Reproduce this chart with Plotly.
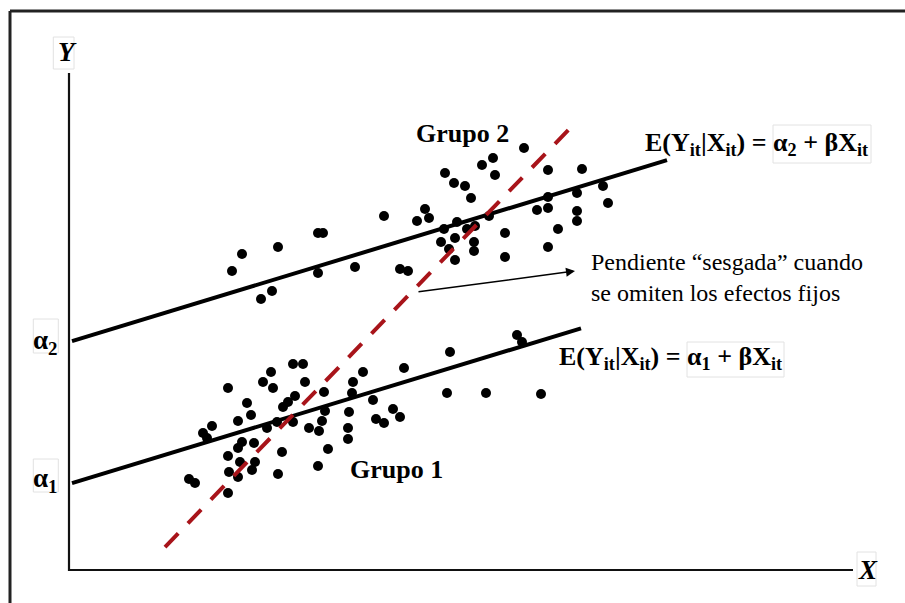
import plotly.graph_objects as go

# ---- data (abstract units; origin at the axes corner) ----
g1_x = [44.8, 45.3, 38.1, 22.4, 23.4, 20.2, 29.4, 33.5, 19.4, 20.4, 23.6, 15.9, 28.4, 25.5, 28.3,
        37.8, 41.7, 47.2, 22.6, 21.9, 21.4, 17.8, 30.4, 18.2, 16.9, 25.6, 28.0, 32.4, 33.1, 30.7,
        31.5, 20.8, 22.4, 19.8, 25.3, 24.0, 25.0, 27.9, 27.9, 14.3, 13.4, 13.8, 17.3, 18.5, 16.9,
        21.3, 25.9, 15.9, 17.1, 18.6, 18.3, 16.0, 24.9, 20.9, 16.9, 12.0, 12.6, 15.9]
g1_y = [23.5, 22.8, 21.8, 20.6, 20.6, 19.8, 19.8, 20.2, 18.8, 18.2, 18.8, 18.2, 18.8, 17.8, 17.7,
        17.7, 17.7, 17.6, 17.4, 16.8, 16.3, 16.7, 17.0, 15.5, 14.9, 15.9, 15.8, 16.1, 15.3, 15.1,
        14.7, 14.8, 14.8, 14.2, 14.9, 14.2, 13.9, 14.2, 13.1, 14.4, 13.7, 13.2, 12.8, 12.7, 12.2,
        11.8, 12.1, 11.4, 10.8, 10.8, 10.0, 9.8, 10.4, 9.6, 9.3, 9.1, 8.7, 7.7]

g2_x = [45.5, 42.4, 41.3, 42.6, 37.6, 47.9, 51.3, 38.5, 39.6, 40.2, 53.4, 53.9, 47.9, 50.8, 50.8,
        50.8, 46.8, 47.9, 48.9, 47.9, 35.6, 36.0, 34.8, 31.5, 42.0, 38.8, 37.5, 39.8, 40.6, 43.6,
        38.6, 37.2, 40.5, 38.0, 40.5, 38.6, 43.6, 24.9, 25.4, 20.9, 17.3, 16.3, 24.9, 28.6, 33.1,
        33.9, 20.3, 19.2]
g2_y = [42.2, 41.2, 40.5, 39.5, 39.7, 40.0, 40.1, 38.7, 38.4, 37.2, 38.4, 36.7, 37.3, 37.7, 35.9,
        34.9, 36.0, 36.2, 34.1, 32.3, 36.1, 35.2, 34.9, 35.4, 35.4, 34.8, 34.1, 34.1, 34.4, 33.7,
        33.2, 32.8, 32.8, 32.1, 31.9, 31.0, 31.3, 33.7, 33.7, 32.3, 31.6, 29.9, 29.7, 30.3, 30.1,
        29.9, 27.9, 27.1]

slope = 0.304
alpha1 = 8.6
alpha2 = 22.8
line1_x = [0.3, 51.2]
line2_x = [0.3, 59.8]

pooled_slope = 1.034
pooled_int = -7.63
pooled_x = [9.6, 50.4]

x_axis_end = 78.4
y_axis_end = 49.7

# ---- figure ----
SERIF = "Liberation Serif, Times New Roman, serif"
fig = go.Figure()

# axes
fig.add_trace(go.Scatter(x=[0, 0, x_axis_end], y=[y_axis_end, 0, 0], mode="lines",
                         line=dict(color="#111", width=2.2), hoverinfo="skip"))

# regression lines
fig.add_trace(go.Scatter(x=line2_x, y=[alpha2 + slope * v for v in line2_x], mode="lines",
                         line=dict(color="#000", width=4), hoverinfo="skip"))
fig.add_trace(go.Scatter(x=line1_x, y=[alpha1 + slope * v for v in line1_x], mode="lines",
                         line=dict(color="#000", width=4), hoverinfo="skip"))

# points
fig.add_trace(go.Scatter(x=g1_x, y=g1_y, mode="markers",
                         marker=dict(color="#000", size=10), hoverinfo="skip"))
fig.add_trace(go.Scatter(x=g2_x, y=g2_y, mode="markers",
                         marker=dict(color="#000", size=10), hoverinfo="skip"))

# pooled (biased) line
fig.add_trace(go.Scatter(x=pooled_x, y=[pooled_int + pooled_slope * v for v in pooled_x],
                         mode="lines", line=dict(color="#a8141a", width=4, dash="19px,14px"),
                         hoverinfo="skip"))

ann = []
def txt(x, y, text, size, xanchor="center", yanchor="middle", bold=True, italic=False):
    t = text
    if bold:
        t = "<b>" + t + "</b>"
    if italic:
        t = "<i>" + t + "</i>"
    ann.append(dict(x=x, y=y, xref="x", yref="y", text=t, showarrow=False,
                    xanchor=xanchor, yanchor=yanchor, align="left",
                    font=dict(family=SERIF, size=size, color="#000")))

txt(39.3, 43.7, "Grupo 2", 26)
txt(32.7, 10.1, "Grupo 1", 26)
txt(57.4, 42.6, "E(Y<sub>it</sub>|X<sub>it</sub>) = α<sub>2</sub> + βX<sub>it</sub>", 26, xanchor="left")
txt(48.8, 21.2, "E(Y<sub>it</sub>|X<sub>it</sub>) = α<sub>1</sub> + βX<sub>it</sub>", 26, xanchor="left")
txt(52.0, 29.3, "Pendiente “sesgada” cuando<br>se omiten los efectos fijos", 24, xanchor="left", bold=False)
txt(-0.2, 51.8, "Y", 27, italic=True)
txt(79.9, 0.0, "X", 27, italic=True)
txt(-2.4, 22.8, "α<sub>2</sub>", 27)
txt(-2.4, 9.0, "α<sub>1</sub>", 27)

# arrow
ann.append(dict(x=50.6, y=29.9, ax=34.8, ay=27.8, xref="x", yref="y", axref="x", ayref="y",
                text="", showarrow=True, arrowhead=2, arrowsize=1.2, arrowwidth=1.5,
                arrowcolor="#000"))

shapes = [
    # outer frame (left & top)
    dict(type="line", xref="paper", yref="paper", x0=10 / 905, x1=10 / 905, y0=0, y1=1 - 11 / 603,
         line=dict(color="#222", width=3)),
    dict(type="line", xref="paper", yref="paper", x0=10 / 905, x1=1, y0=1 - 11 / 603, y1=1 - 11 / 603,
         line=dict(color="#222", width=3)),
]
# faint boxes (pasted-label artifacts)
boxes = [(-1.57, 53.3, 0.5, 50.1), (-3.57, 25.1, -1.07, 21.7), (-3.57, 11.1, -1.07, 7.8),
         (78.8, 1.8, 80.7, -1.6), (70.4, 44.5, 80.2, 40.7), (61.8, 22.8, 71.5, 19.3)]
for x0, y0, x1, y1 in boxes:
    shapes.append(dict(type="rect", xref="x", yref="y", x0=x0, y0=y0, x1=x1, y1=y1,
                       line=dict(color="#e2e2e2", width=1), layer="below"))

fig.update_layout(
    width=905, height=603, margin=dict(l=0, r=0, t=0, b=0),
    paper_bgcolor="white", plot_bgcolor="white", showlegend=False,
    xaxis=dict(range=[-6.9, 83.6], visible=False, fixedrange=True),
    yaxis=dict(range=[-3.3, 57.0], visible=False, fixedrange=True),
    annotations=ann, shapes=shapes,
)

fig.write_html("out.html", config={"displayModeBar": False},
               post_script="document.body.style.margin='0';document.body.style.overflow='hidden';")
